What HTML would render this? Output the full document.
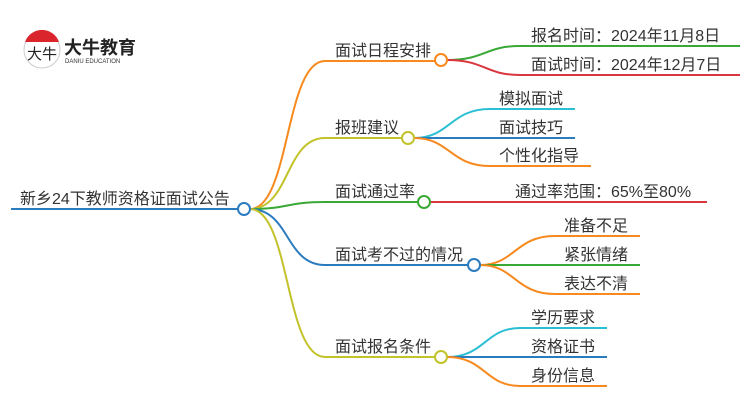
<!DOCTYPE html>
<html><head><meta charset="utf-8"><style>
body{margin:0;background:#fff;width:750px;height:410px;overflow:hidden}
text{font-family:"Liberation Sans","Noto Sans CJK SC",sans-serif;fill:#333;font-size:16px}
</style></head><body>
<svg width="750" height="410" viewBox="0 0 750 410" fill="none" stroke-width="2">
<!-- logo -->
<circle cx="42" cy="50" r="18" stroke="#ccc" stroke-width="1" fill="#fff"/>
<path d="M25 42 A18 18 0 0 1 59 42 Z" fill="#d9252b" stroke="none"/>
<text x="27" y="59" style="font-size:15px;fill:#222">大牛</text>
<text x="64" y="54" style="font-size:18px;font-weight:bold;fill:#222">大牛教育</text>
<text x="65" y="63" style="font-size:6px;fill:#333">DANIU EDUCATION</text>
<!-- root -->
<path d="M11 209H238" stroke="#2b7bbf"/>
<text x="20" y="204">新乡24下教师资格证面试公告</text>
<!-- branches -->
<path d="M250 209C290 209 285 61 325 61H435" stroke="#f7891e"/>
<path d="M250 209C290 209 285 138 325 138H402" stroke="#c2c22a"/>
<path d="M250 209C290 209 285 202 325 202H418" stroke="#3aa836"/>
<path d="M250 209C290 209 285 265 325 265H468" stroke="#2b7bbf"/>
<path d="M250 209C290 209 285 357 325 357H435" stroke="#c2c22a"/>
<text x="335" y="56">面试日程安排</text>
<text x="335" y="133">报班建议</text>
<text x="335" y="197">面试通过率</text>
<text x="335" y="260">面试考不过的情况</text>
<text x="335" y="352">面试报名条件</text>
<!-- children 1 -->
<path d="M447 60C485 60 485 46 520 46H740" stroke="#3aa836"/>
<path d="M447 60C485 60 485 75 520 75H740" stroke="#d9363e"/>
<text x="531" y="41">报名时间：2024年11月8日</text>
<text x="531" y="70">面试时间：2024年12月7日</text>
<!-- children 2 -->
<path d="M414 138C450 138 450 109 490 109H575" stroke="#2bbfd4"/>
<path d="M414 138H575" stroke="#2b7bbf"/>
<path d="M414 138C450 138 450 166 490 166H591" stroke="#f7891e"/>
<text x="499" y="104">模拟面试</text>
<text x="499" y="133">面试技巧</text>
<text x="499" y="161">个性化指导</text>
<!-- children 3 -->
<path d="M430 202H707" stroke="#d9363e"/>
<text x="515" y="197">通过率范围：65%至80%</text>
<!-- children 4 -->
<path d="M480 265C515 265 515 236 555 236H640" stroke="#f7891e"/>
<path d="M480 265H640" stroke="#3aa836"/>
<path d="M480 265C515 265 515 294 555 294H640" stroke="#f7891e"/>
<text x="564" y="231">准备不足</text>
<text x="564" y="260">紧张情绪</text>
<text x="564" y="289">表达不清</text>
<!-- children 5 -->
<path d="M447 357C485 357 485 328 520 328H607" stroke="#2bbfd4"/>
<path d="M447 357H607" stroke="#2b7bbf"/>
<path d="M447 357C485 357 485 386 520 386H607" stroke="#f7891e"/>
<text x="531" y="323">学历要求</text>
<text x="531" y="352">资格证书</text>
<text x="531" y="381">身份信息</text>
<!-- nodes -->
<circle cx="244" cy="209" r="6" stroke="#2b7bbf" fill="#fff"/>
<circle cx="441" cy="60" r="6" stroke="#f7891e" fill="#fff"/>
<circle cx="408" cy="138" r="6" stroke="#c2c22a" fill="#fff"/>
<circle cx="424" cy="202" r="6" stroke="#3aa836" fill="#fff"/>
<circle cx="474" cy="265" r="6" stroke="#2b7bbf" fill="#fff"/>
<circle cx="441" cy="357" r="6" stroke="#c2c22a" fill="#fff"/>
</svg>
</body></html>
